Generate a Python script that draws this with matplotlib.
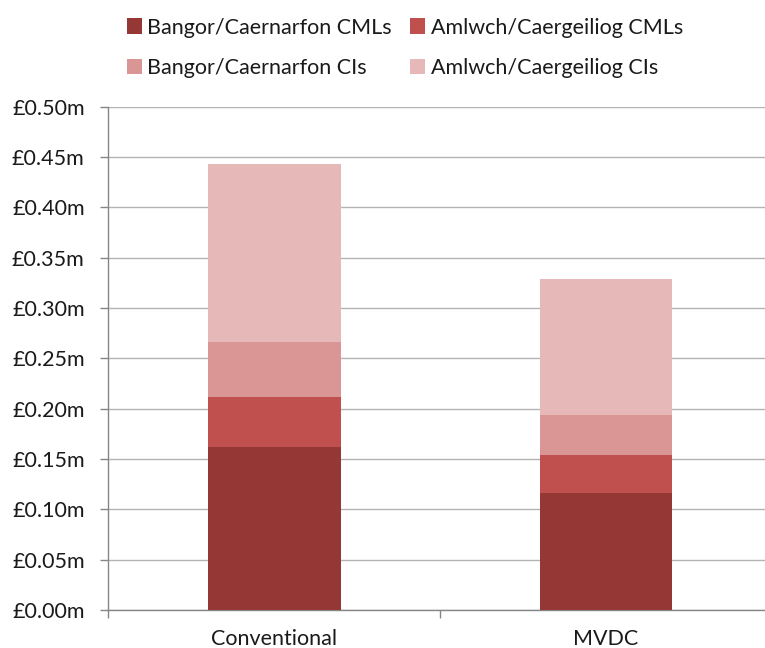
import matplotlib
matplotlib.use("Agg")
import matplotlib.pyplot as plt
from matplotlib.ticker import FuncFormatter, MultipleLocator
import numpy as np

# Cost components (in £ millions) for each scheme
schemes = ["Conventional", "MVDC"]
bangor_cmls = [0.162, 0.116]
amlwch_cmls = [0.0494, 0.038]
bangor_cis = [0.055, 0.0397]
amlwch_cis = [0.177, 0.1348]

series_labels = ["Bangor/Caernarfon CMLs", "Amlwch/Caergeiliog CMLs",
                 "Bangor/Caernarfon CIs", "Amlwch/Caergeiliog CIs"]
series_colors = ["#953735", "#C0504D", "#D99694", "#E6B9B8"]

plt.rcParams['font.family'] = ['Lato', 'DejaVu Sans']
FS = 15.5

W, H = 765, 648
fig = plt.figure(figsize=(W / 100, H / 100), dpi=100)
ax_left, ax_right = 108.3, 772.0
ax_bottom, ax_top = 610.0, 106.7
ax = fig.add_axes([ax_left / W, 1 - ax_bottom / H,
                   (ax_right - ax_left) / W, (ax_bottom - ax_top) / H])

x = np.arange(len(schemes))
bottom = np.zeros(len(schemes))
handles = []
for vals, lab, col in zip([bangor_cmls, amlwch_cmls, bangor_cis, amlwch_cis],
                          series_labels, series_colors):
    b = ax.bar(x, vals, width=0.4, bottom=bottom, color=col, label=lab,
               zorder=3, linewidth=0)
    handles.append(b)
    bottom = bottom + np.array(vals)

ax.set_xlim(-0.5, 1.5)
ax.set_ylim(0, 0.5)
ax.yaxis.set_major_locator(MultipleLocator(0.05))
ax.yaxis.set_major_formatter(FuncFormatter(lambda v, p: f"£{v:.2f}m"))
ax.grid(axis='y', color='#B3B3B3', linewidth=1.0, zorder=0)
ax.set_axisbelow(True)

ax.set_xticks(x)
ax.set_xticklabels(schemes)
ax.set_xticks([-0.5, 0.5, 1.5], minor=True)
ax.tick_params(axis='x', which='major', length=0, pad=13.5, labelsize=FS,
               colors='#1a1a1a')
ax.tick_params(axis='x', which='minor', length=6, color='#868686', width=1)
ax.tick_params(axis='y', length=6, color='#868686', width=1, pad=11,
               labelsize=FS, labelcolor='#1a1a1a')

for s in ['top', 'right']:
    ax.spines[s].set_visible(False)
for s in ['left', 'bottom']:
    ax.spines[s].set_color('#868686')
    ax.spines[s].set_linewidth(1)

# Legend: two rows, two columns
order = [0, 2, 1, 3]
fig.legend([handles[i] for i in order], [series_labels[i] for i in order],
           ncol=2, loc='upper left', bbox_to_anchor=(127 / W, 1 - 17.5 / H),
           frameon=False, fontsize=FS, handlelength=0.7, handleheight=0.7,
           handletextpad=0.25, columnspacing=0.85, labelspacing=0.95,
           borderaxespad=0, borderpad=0, labelcolor='#1a1a1a')

fig.savefig("out.png", dpi=100)
